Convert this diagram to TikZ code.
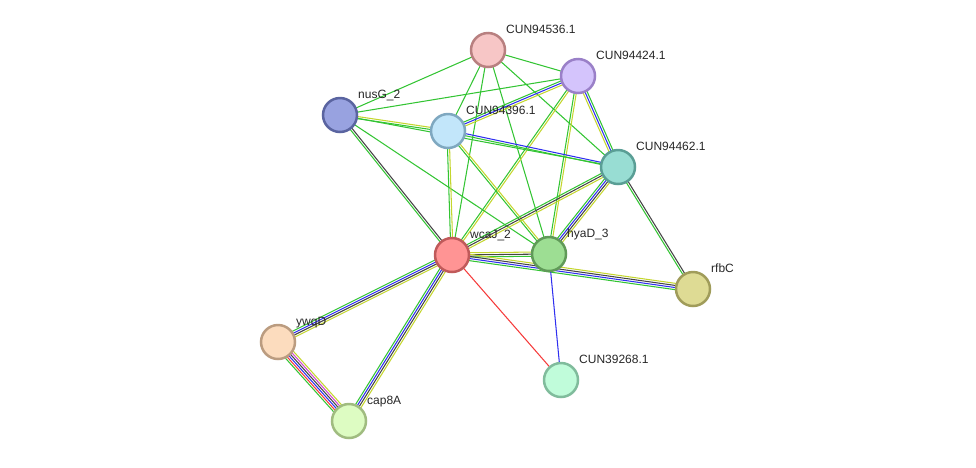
\documentclass[tikz,border=0pt]{standalone}
\usepackage{fontspec}
\setmainfont{Liberation Sans}
\usepackage{tikz}
\usetikzlibrary{calc,backgrounds}

\definecolor{lkgreen}{HTML}{33C433}
\definecolor{lkblue}{HTML}{2F2FF0}
\definecolor{lkblack}{HTML}{444444}
\definecolor{lkyellow}{HTML}{C4D62E}
\definecolor{lkred}{HTML}{F53A3A}
\definecolor{lkmagenta}{HTML}{D048D0}

% one coloured line per evidence channel, side by side
\newcommand{\linkage}[3]{%
	\foreach \col [count=\k] in {#3} {\xdef\nlines{\k}}%
	\foreach \col [count=\k] in {#3} {%
		\pgfmathsetmacro{\off}{(\k-(\nlines+1)/2)*2.1}%
		\draw[line width=1.05pt,\col] ($(#1)!\off pt!90:(#2)$) -- ($(#2)!\off pt!-90:(#1)$);
	}}

\begin{document}
\begin{tikzpicture}[x=1pt,y=-1pt,
	prot/.style={circle,line width=2.5pt,minimum size=34pt,inner sep=0pt},
	lbl/.style={anchor=base west,inner sep=0pt,font=\fontsize{12}{14}\selectfont,text=black!85}]
	\useasboundingbox (0,0) rectangle (976,467);

	% proteins
	\node[prot,fill={rgb,255:red,247;green,198;blue,198},draw={rgb,255:red,184;green,128;blue,128}] (c536) at (488,50) {};
	\node[prot,fill={rgb,255:red,212;green,196;blue,252},draw={rgb,255:red,154;green,128;blue,200}] (c424) at (578,76) {};
	\node[prot,fill={rgb,255:red,152;green,162;blue,224},draw={rgb,255:red,90;green,100;blue,160}] (nusG) at (340,115) {};
	\node[prot,fill={rgb,255:red,194;green,230;blue,250},draw={rgb,255:red,127;green,168;blue,192}] (c396) at (448,131) {};
	\node[prot,fill={rgb,255:red,152;green,221;blue,211},draw={rgb,255:red,90;green,158;blue,149}] (c462) at (618,167) {};
	\node[prot,fill={rgb,255:red,255;green,148;blue,148},draw={rgb,255:red,192;green,90;blue,90}] (wcaJ) at (452,255) {};
	\node[prot,fill={rgb,255:red,157;green,222;blue,147},draw={rgb,255:red,96;green,154;blue,88}] (hyaD) at (549,254) {};
	\node[prot,fill={rgb,255:red,222;green,219;blue,148},draw={rgb,255:red,160;green,156;blue,90}] (rfbC) at (693,289) {};
	\node[prot,fill={rgb,255:red,252;green,220;blue,190},draw={rgb,255:red,187;green,156;blue,128}] (ywqD) at (278,342) {};
	\node[prot,fill={rgb,255:red,192;green,252;blue,218},draw={rgb,255:red,128;green,188;blue,156}] (c268) at (561,380) {};
	\node[prot,fill={rgb,255:red,221;green,252;blue,194},draw={rgb,255:red,160;green,188;blue,128}] (cap8A) at (349,421) {};

	% names
	\node[lbl] at ([shift={(18,-17)}]c536.center) {CUN94536.1};
	\node[lbl] at ([shift={(18,-17)}]c424.center) {CUN94424.1};
	\node[lbl] at ([shift={(18,-17)}]nusG.center) {nusG\_2};
	\node[lbl] at ([shift={(18,-17)}]c396.center) {CUN94396.1};
	\node[lbl] at ([shift={(18,-17)}]c462.center) {CUN94462.1};
	\node[lbl] at ([shift={(18,-17)}]wcaJ.center) {wcaJ\_2};
	\node[lbl] at ([shift={(18,-17)}]hyaD.center) {hyaD\_3};
	\node[lbl] at ([shift={(18,-17)}]rfbC.center) {rfbC};
	\node[lbl] at ([shift={(18,-17)}]ywqD.center) {ywqD};
	\node[lbl] at ([shift={(18,-17)}]c268.center) {CUN39268.1};
	\node[lbl] at ([shift={(18,-17)}]cap8A.center) {cap8A};

	% interactions
	\begin{scope}[on background layer]
		\linkage{c536}{nusG}{lkgreen}
		\linkage{c536}{c424}{lkgreen}
		\linkage{c536}{c396}{lkgreen}
		\linkage{c536}{wcaJ}{lkgreen}
		\linkage{c536}{hyaD}{lkgreen}
		\linkage{c536}{c462}{lkgreen}
		\linkage{c424}{nusG}{lkgreen}
		\linkage{c424}{c396}{lkgreen,lkblue,lkyellow}
		\linkage{c424}{c462}{lkyellow,lkblue,lkgreen}
		\linkage{c424}{wcaJ}{lkgreen,lkyellow}
		\linkage{c424}{hyaD}{lkgreen,lkyellow}
		\linkage{nusG}{c396}{lkgreen,lkyellow}
		\linkage{nusG}{c462}{lkgreen}
		\linkage{nusG}{wcaJ}{lkgreen,lkblack}
		\linkage{nusG}{hyaD}{lkgreen}
		\linkage{c396}{c462}{lkgreen,lkblue}
		\linkage{c396}{wcaJ}{lkgreen,lkyellow}
		\linkage{c396}{hyaD}{lkgreen,lkyellow}
		\linkage{c462}{wcaJ}{lkgreen,lkblack,lkyellow}
		\linkage{c462}{hyaD}{lkgreen,lkblue,lkblack,lkyellow}
		\linkage{c462}{rfbC}{lkgreen,lkblack}
		\linkage{wcaJ}{hyaD}{lkgreen,lkblack,lkyellow}
		\linkage{wcaJ}{rfbC}{lkgreen,lkblue,lkblack,lkyellow}
		\linkage{wcaJ}{ywqD}{lkgreen,lkblue,lkblack,lkyellow}
		\linkage{wcaJ}{cap8A}{lkgreen,lkblue,lkblack,lkyellow}
		\linkage{wcaJ}{c268}{lkred}
		\linkage{hyaD}{c268}{lkblue}
		\linkage{ywqD}{cap8A}{lkgreen,lkred,lkblue,lkblack,lkmagenta,lkyellow}
	\end{scope}
\end{tikzpicture}
\end{document}
